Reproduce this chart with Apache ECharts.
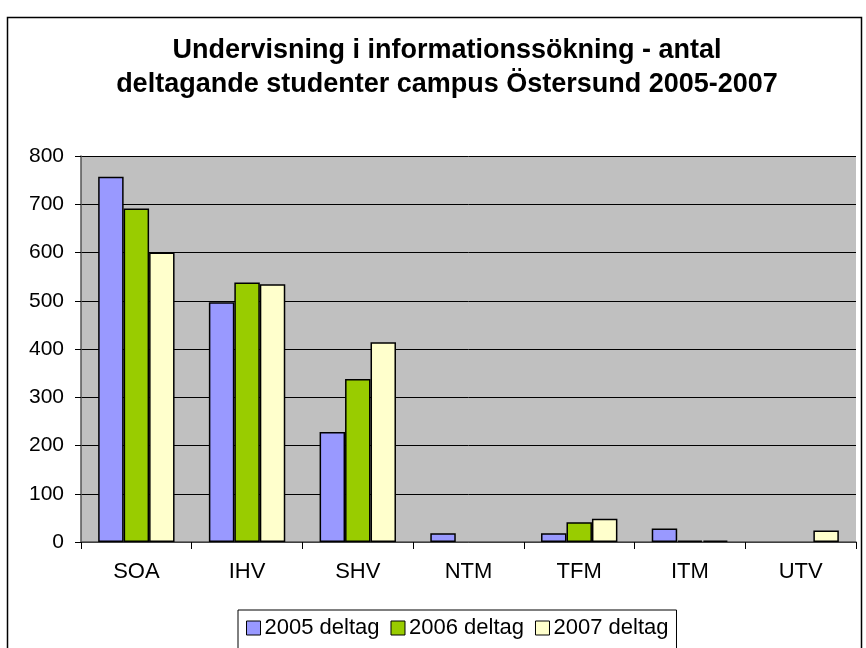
<!DOCTYPE html>
<html><head><meta charset="utf-8">
<script src="https://cdn.jsdelivr.net/npm/echarts@6/dist/echarts.min.js"></script>
<style>html,body{margin:0;padding:0;background:#fff}#c{width:866px;height:648px}</style>
</head><body><div id="c"></div>
<script>
const categories = ['SOA','IHV','SHV','NTM','TFM','ITM','UTV'];
const seriesNames = ['2005 deltag','2006 deltag','2007 deltag'];
const v2005 = [757, 497, 228, 18, 18, 28, null];
const v2006 = [691, 538, 338, null, 41, 3, null];
const v2007 = [600, 534, 414, null, 48, 3, 24];
const yTicks = [0, 100, 200, 300, 400, 500, 600, 700, 800];
const colors = ['#9999ff', '#99cc00', '#ffffcc'];

const chart = echarts.init(document.getElementById('c'), null, {renderer: 'canvas'});
const font = 'Liberation Sans, Arial, sans-serif';
const data = [v2005, v2006, v2007];
chart.setOption({
  animation: false,
  backgroundColor: '#fff',
  title: {
    text: 'Undervisning i informationssökning - antal\ndeltagande studenter campus Östersund 2005-2007',
    left: 442, top: 29, textAlign: 'center',
    textStyle: {fontFamily: font, fontWeight: 'bold', fontSize: 27, lineHeight: 34, color: '#000'}
  },
  graphic: [{
    type: 'rect', shape: {x: 7.5, y: 17.5, width: 854, height: 640},
    style: {fill: 'none', stroke: '#000', lineWidth: 1.5}, z: -1
  }],
  legend: {
    data: seriesNames, left: 238, top: 610,
    itemWidth: 14, itemHeight: 14, itemGap: 11,
    icon: 'rect',
    borderColor: '#000', borderWidth: 1, padding: [7, 8, 12, 8],
    textStyle: {fontFamily: font, fontSize: 22, color: '#000', padding: [0, 0, 0, -1]},
    itemStyle: {borderColor: '#000', borderWidth: 1}
  },
  grid: {left: 81, right: 10, top: 156, bottom: 106, backgroundColor: '#c0c0c0', show: true, borderWidth: 0},
  xAxis: {
    type: 'category', data: categories,
    axisLine: {lineStyle: {color: '#555', width: 1.5}},
    axisTick: {show: true, length: 7, lineStyle: {color: '#000'}},
    axisLabel: {fontFamily: font, fontSize: 22, color: '#000', margin: 19}
  },
  yAxis: {
    type: 'value', min: yTicks[0], max: yTicks[yTicks.length - 1], interval: 100,
    axisLine: {show: true, lineStyle: {color: '#555', width: 1.5}},
    axisTick: {show: true, length: 6, lineStyle: {color: '#000'}},
    splitLine: {lineStyle: {color: '#000', width: 1}},
    axisLabel: {fontFamily: font, fontSize: 21, color: '#000', margin: 17}
  },
  series: seriesNames.map((n, i) => ({
    name: n, type: 'bar', data: data[i],
    barGap: '0%', barCategoryGap: '31%',
    itemStyle: {color: colors[i], borderColor: '#000', borderWidth: 1.5}
  }))
});
</script></body></html>
